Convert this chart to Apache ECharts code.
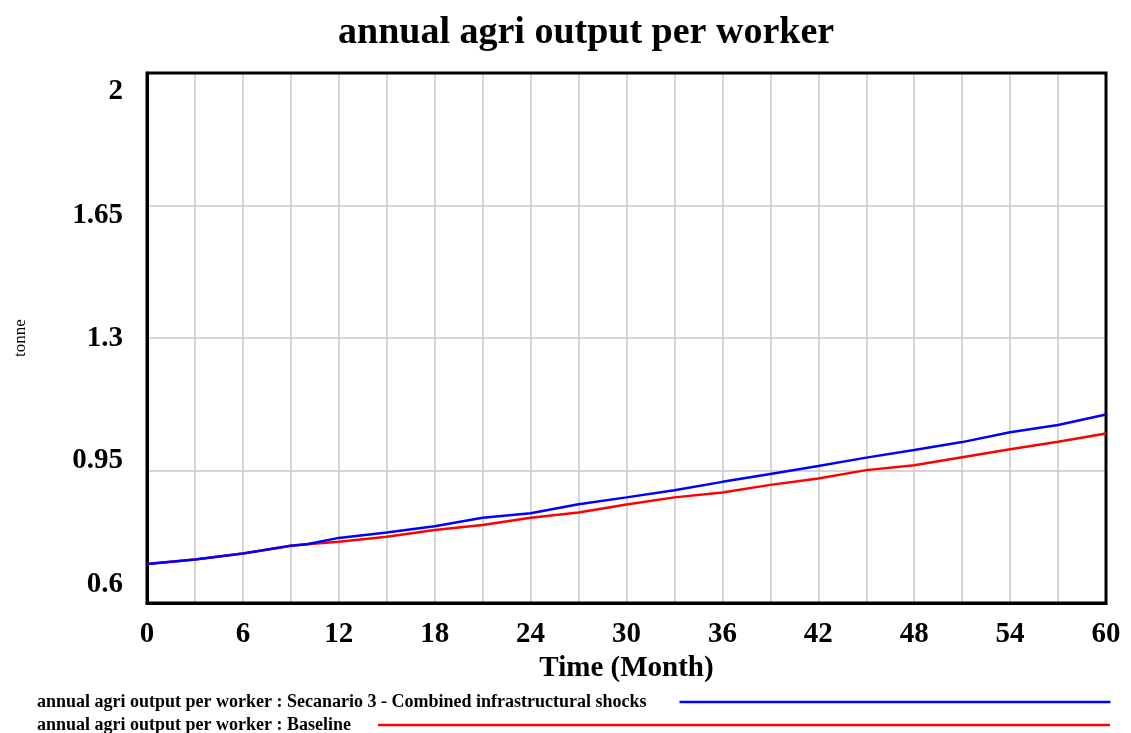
<!DOCTYPE html>
<html>
<head>
<meta charset="utf-8">
<title>annual agri output per worker</title>
<script src="https://cdn.jsdelivr.net/npm/echarts@6/dist/echarts.min.js"></script>
<style>
html, body { margin: 0; padding: 0; background: #fff; }
#chart { width: 1131px; height: 733px; }
</style>
</head>
<body>
<div id="chart"></div>
<script>
// months (every gridline, plus where the runs split)
var months = [0, 3, 6, 9, 10, 12, 15, 18, 21, 24, 27, 30, 33, 36, 39, 42, 45, 48, 51, 54, 57, 60];
var scenario3 = [0.703, 0.715, 0.731, 0.751, 0.755, 0.772, 0.786, 0.803, 0.825, 0.837, 0.861, 0.879, 0.898, 0.920, 0.941, 0.962, 0.984, 1.004, 1.025, 1.051, 1.070, 1.098];
var baseline = [0.703, 0.715, 0.731, 0.751, 0.755, 0.762, 0.775, 0.793, 0.806, 0.825, 0.839, 0.860, 0.879, 0.892, 0.912, 0.929, 0.951, 0.964, 0.985, 1.006, 1.026, 1.048];
var yTicks = [0.6, 0.95, 1.3, 1.65, 2];

var nameScenario = 'annual agri output per worker : Secanario 3 - Combined infrastructural shocks';
var nameBaseline = 'annual agri output per worker : Baseline';

function pairs(xs, ys) {
	return xs.map(function (x, i) { return [x, ys[i]]; });
}

var serif = '"Liberation Serif", "Times New Roman", serif';
var chart = echarts.init(document.getElementById('chart'));

// vensim spreads the y labels evenly, a bit off the gridlines
var yLabelStyle = { fontFamily: serif, fontWeight: 'bold', fontSize: 29, color: '#000' };
var yRich = {
	t0: Object.assign({ padding: [0, 0, 36, 0] }, yLabelStyle),
	t1: Object.assign({ padding: [0, 0, 19, 0] }, yLabelStyle),
	t2: Object.assign({ padding: [2, 0, 0, 0] }, yLabelStyle),
	t3: Object.assign({ padding: [21, 0, 0, 0] }, yLabelStyle),
	t4: Object.assign({ padding: [38, 0, 0, 0] }, yLabelStyle)
};

chart.setOption({
	animation: false,
	backgroundColor: '#fff',
	title: {
		text: 'annual agri output per worker',
		left: 333,
		top: 9,
		textStyle: { fontFamily: serif, fontWeight: 'bold', fontSize: 38, color: '#000' }
	},
	legend: [
		{
			data: [nameScenario],
			left: 32,
			top: 688,
			align: 'right',
			icon: 'rect',
			itemWidth: 431,
			itemHeight: 2.5,
			itemGap: 0,
			textStyle: { fontFamily: serif, fontWeight: 'bold', fontSize: 18, color: '#000', padding: [0, 28, 0, 0] }
		},
		{
			data: [nameBaseline],
			left: 32,
			top: 711,
			align: 'right',
			icon: 'rect',
			itemWidth: 732,
			itemHeight: 2.5,
			itemGap: 0,
			textStyle: { fontFamily: serif, fontWeight: 'bold', fontSize: 18, color: '#000', padding: [0, 22, 0, 0] }
		}
	],
	grid: {
		left: 147,
		right: 25,
		top: 73,
		bottom: 130,
		show: true,
		borderColor: '#000',
		borderWidth: 3,
		z: 3
	},
	xAxis: {
		type: 'value',
		min: 0,
		max: 60,
		interval: 6,
		name: 'Time (Month)',
		nameLocation: 'middle',
		nameGap: 46,
		nameTextStyle: { fontFamily: serif, fontWeight: 'bold', fontSize: 29, color: '#000' },
		axisLine: { show: true, lineStyle: { color: '#000', width: 3 } },
		axisTick: { show: false },
		minorTick: { show: false, splitNumber: 2 },
		axisLabel: { fontFamily: serif, fontWeight: 'bold', fontSize: 29, color: '#000', margin: 17 },
		splitLine: { show: true, lineStyle: { color: '#c8c8c8', width: 1.5 } },
		minorSplitLine: { show: true, lineStyle: { color: '#c8c8c8', width: 1.5 } }
	},
	yAxis: {
		type: 'value',
		min: yTicks[0],
		max: yTicks[yTicks.length - 1],
		interval: 0.35,
		name: 'tonne',
		nameLocation: 'middle',
		nameRotate: 90,
		nameGap: 118,
		nameTextStyle: { fontFamily: serif, fontSize: 17, color: '#000' },
		axisLine: { show: true, lineStyle: { color: '#000', width: 3 } },
		axisTick: { show: false },
		axisLabel: {
			margin: 24,
			formatter: function (v) {
				var r = Math.round(v * 100) / 100;
				var i = yTicks.indexOf(r);
				return '{t' + i + '|' + r + '}';
			},
			rich: yRich
		},
		splitLine: { show: true, lineStyle: { color: '#c8c8c8', width: 1.5 } }
	},
	series: [
		{
			name: nameBaseline,
			type: 'line',
			data: pairs(months, baseline),
			showSymbol: false,
			symbol: 'none',
			itemStyle: { color: '#ff0000' },
			lineStyle: { color: '#ff0000', width: 2.5 }
		},
		{
			name: nameScenario,
			type: 'line',
			data: pairs(months, scenario3),
			showSymbol: false,
			symbol: 'none',
			itemStyle: { color: '#0000ff' },
			lineStyle: { color: '#0000ff', width: 2.5 }
		}
	]
});
</script>
</body>
</html>
